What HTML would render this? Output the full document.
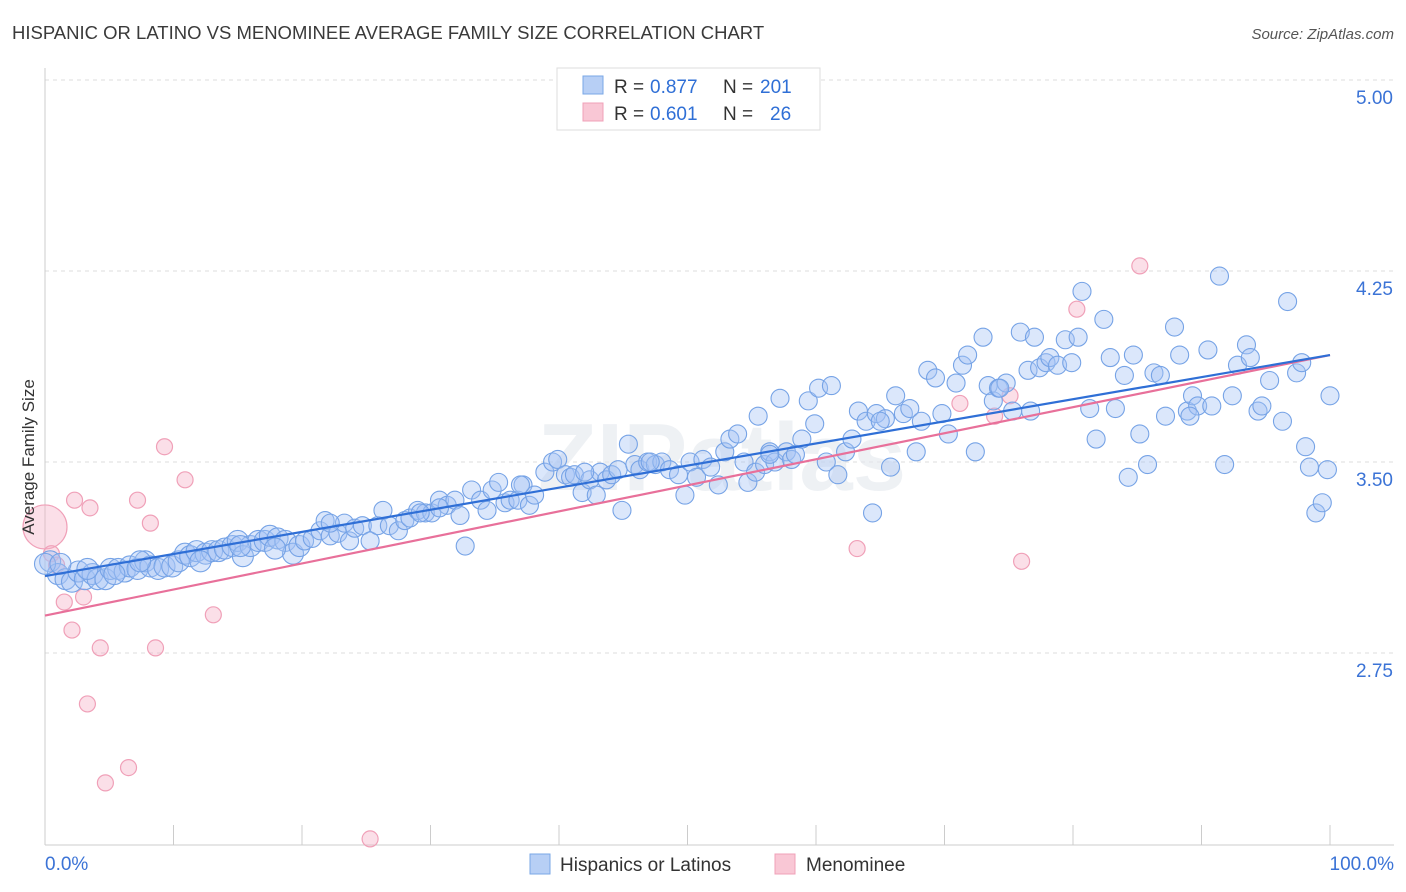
<!DOCTYPE html>
<html><head><meta charset="utf-8">
<style>
body{margin:0;background:#fff;font-family:"Liberation Sans",sans-serif;}
svg{display:block}
</style></head>
<body>
<svg id="chart" width="1406" height="892" xmlns="http://www.w3.org/2000/svg" font-family="Liberation Sans, sans-serif">
<text x="12" y="39" font-size="18.5" fill="#3a3a3a">HISPANIC OR LATINO VS MENOMINEE AVERAGE FAMILY SIZE CORRELATION CHART</text>
<text x="1394" y="39" font-size="15" fill="#555" font-style="italic" text-anchor="end">Source: ZipAtlas.com</text>
<g id="grid"></g>
<text x="722" y="490" font-size="96" fill="#e4e8ee" text-anchor="middle" font-weight="bold" opacity="0.6">ZIPatlas</text>
<g id="axes"></g>
<g id="pink"></g>
<g id="blue"></g>
<g id="lines"></g>
<text transform="translate(34,457) rotate(-90)" font-size="17" fill="#333" text-anchor="middle">Average Family Size</text>
<g>
<rect x="557" y="68" width="263" height="62" fill="#fff" stroke="#ddd"/>
<rect x="583" y="76" width="20" height="18" fill="#b7cff5" stroke="#7aa7e6"/>
<rect x="583" y="103" width="20" height="18" fill="#f9c7d5" stroke="#f0a0b8"/>
<text x="614" y="93" font-size="19" fill="#333">R =</text>
<text x="650" y="93" font-size="19" fill="#2f6fd6">0.877</text>
<text x="723" y="93" font-size="19" fill="#333">N =</text>
<text x="760" y="93" font-size="19" fill="#2f6fd6">201</text>
<text x="614" y="120" font-size="19" fill="#333">R =</text>
<text x="650" y="120" font-size="19" fill="#2f6fd6">0.601</text>
<text x="723" y="120" font-size="19" fill="#333">N =</text>
<text x="770" y="120" font-size="19" fill="#2f6fd6">26</text>
</g>
<g>
<rect x="530" y="854" width="20" height="20" fill="#b7cff5" stroke="#7aa7e6"/>
<text x="560" y="871" font-size="19" fill="#333">Hispanics or Latinos</text>
<rect x="775" y="854" width="20" height="20" fill="#f9c7d5" stroke="#f0a0b8"/>
<text x="806" y="871" font-size="19" fill="#333">Menominee</text>
</g>
</svg>
<script>
const yTicks=[2.75,3.50,4.25,5.00];
const yTickLabels=["2.75","3.50","4.25","5.00"];
const xTickLabels=["0.0%","100.0%"];
const blueX=[0.4,1.0,1.6,2.1,2.6,3.1,3.7,4.1,4.7,5.1,5.7,6.2,6.6,7.2,7.8,8.2,8.8,9.3,9.9,10.4,10.9,11.3,11.8,12.5,13.0,13.5,14.0,14.6,15.0,15.4,16.0,16.6,17.1,17.5,18.1,18.7,19.3,19.8,20.2,20.8,21.4,21.8,22.2,22.8,23.3,23.7,24.1,24.7,25.3,25.9,26.3,26.8,27.5,28.0,28.4,29.0,29.6,30.1,30.7,31.3,31.9,32.3,32.7,33.2,33.9,34.4,34.8,35.3,35.8,36.2,36.8,37.2,37.7,38.1,38.9,39.5,39.9,40.5,40.9,41.2,41.8,42.4,42.9,43.2,43.7,44.1,44.6,44.9,45.4,45.9,46.3,46.9,47.5,48.0,48.6,49.3,49.8,50.2,50.7,51.2,51.8,52.4,52.9,53.3,53.9,54.4,54.7,55.3,55.5,56.0,56.4,56.8,57.2,57.7,58.1,58.4,58.9,59.4,59.9,60.2,60.8,61.2,61.7,62.3,62.8,63.3,63.9,64.4,64.7,65.4,65.8,66.2,66.8,67.3,67.8,68.2,68.7,69.3,69.8,70.3,70.9,71.4,71.8,72.4,73.0,73.4,73.8,74.2,74.8,75.3,75.9,76.5,77.0,77.4,77.9,78.2,78.8,79.4,79.9,80.4,80.7,81.3,81.8,82.4,82.9,83.3,84.0,84.3,84.7,85.2,85.8,86.3,86.8,87.2,87.9,88.3,88.9,89.3,89.7,90.5,90.8,91.4,91.8,92.4,92.8,93.5,93.8,94.4,94.7,95.3,96.3,96.7,97.4,97.8,98.1,98.4,98.9,99.4,99.8,100,0,1.2,3.3,5.4,7.4,12.1,15.2,17.9,22.2,29.2,30.7,37.0,42.0,47.1,56.4,65.0,74.3,76.7,89.1];
const blueY=[3.11,3.06,3.04,3.03,3.07,3.04,3.06,3.04,3.04,3.08,3.08,3.07,3.09,3.08,3.11,3.09,3.08,3.09,3.09,3.11,3.14,3.13,3.15,3.14,3.15,3.15,3.16,3.17,3.19,3.13,3.17,3.19,3.19,3.21,3.20,3.19,3.14,3.17,3.19,3.20,3.23,3.27,3.21,3.22,3.26,3.19,3.24,3.25,3.19,3.25,3.31,3.25,3.23,3.27,3.28,3.31,3.30,3.30,3.35,3.33,3.35,3.29,3.17,3.39,3.35,3.31,3.39,3.42,3.34,3.35,3.35,3.41,3.33,3.37,3.46,3.50,3.51,3.45,3.44,3.45,3.38,3.43,3.37,3.46,3.43,3.45,3.47,3.31,3.57,3.49,3.47,3.50,3.49,3.50,3.47,3.45,3.37,3.50,3.44,3.51,3.48,3.41,3.54,3.59,3.61,3.50,3.42,3.46,3.68,3.49,3.54,3.50,3.75,3.54,3.51,3.53,3.59,3.74,3.65,3.79,3.50,3.80,3.45,3.54,3.59,3.70,3.66,3.30,3.69,3.67,3.48,3.76,3.69,3.71,3.54,3.66,3.86,3.83,3.69,3.61,3.81,3.88,3.92,3.54,3.99,3.80,3.74,3.79,3.81,3.70,4.01,3.86,3.99,3.87,3.89,3.91,3.88,3.98,3.89,3.99,4.17,3.71,3.59,4.06,3.91,3.71,3.84,3.44,3.92,3.61,3.49,3.85,3.84,3.68,4.03,3.92,3.70,3.76,3.72,3.94,3.72,4.23,3.49,3.76,3.88,3.96,3.91,3.70,3.72,3.82,3.66,4.13,3.85,3.89,3.56,3.48,3.30,3.34,3.47,3.76,3.10,3.10,3.08,3.06,3.11,3.11,3.17,3.16,3.26,3.30,3.32,3.41,3.46,3.50,3.53,3.66,3.79,3.70,3.68];
const pinkX=[0,0.5,0.9,1.5,2.3,3.5,2.1,3.0,4.3,3.3,4.7,6.5,7.2,8.2,9.3,8.6,10.9,13.1,25.3,63.2,71.2,73.9,75.1,76.0,80.3,85.2];
const pinkY=[3.245,3.14,3.095,2.95,3.35,3.32,2.84,2.97,2.77,2.55,2.24,2.30,3.35,3.26,3.56,2.77,3.43,2.90,2.02,3.16,3.73,3.68,3.76,3.11,4.10,4.27];
const blueTrend=[3.052,3.92];
const pinkTrend=[2.897,3.92];

const NS="http://www.w3.org/2000/svg";
const X0=45,X1=1330,YB=845;
const sx=v=>X0+(X1-X0)*v/100;
const sy=v=>653-(v-2.75)*254.67;
function mk(tag,attrs,parent){const e=document.createElementNS(NS,tag);for(const k in attrs)e.setAttribute(k,attrs[k]);parent.appendChild(e);return e;}
const grid=document.getElementById('grid'),axes=document.getElementById('axes');
yTicks.forEach((t,i)=>{
  const l=mk('line',{x1:X0,x2:1394,y1:sy(t),y2:sy(t),stroke:'#ddd','stroke-dasharray':'4,4'},grid);
  
  
  const tx=mk('text',{x:1393,y:sy(t)+24,'font-size':19,fill:'#3b73d6','text-anchor':'end'},axes);
  tx.textContent=yTickLabels[i];
  
  
});
const ya=mk('line',{x1:X0,x2:X0,y1:68,y2:YB,stroke:'#ccc'},axes);


const xa=mk('line',{x1:X0,x2:1394,y1:YB,y2:YB,stroke:'#ccc'},axes);


for(let i=0;i<=10;i++){
  const t=mk('line',{x1:sx(i*10),x2:sx(i*10),y1:825,y2:YB,stroke:'#ccc'},axes);
  
  
}
const xl0=mk('text',{x:45,y:870,'font-size':19,fill:'#3b73d6'},axes);xl0.textContent=xTickLabels[0];


const xl1=mk('text',{x:1394,y:870,'font-size':19,fill:'#3b73d6','text-anchor':'end'},axes);xl1.textContent=xTickLabels[1];



const pg=document.getElementById('pink');
pinkX.forEach((x,i)=>{
  const c=mk('circle',{cx:sx(x),cy:sy(pinkY[i]),r:i===0?22:8,fill:'rgba(246,175,198,0.4)',stroke:'#f0a0b8','stroke-width':1.2},pg);
  
  
});
const bg=document.getElementById('blue');
blueX.forEach((x,i)=>{
  const c=mk('circle',{cx:sx(x),cy:sy(blueY[i]),r:x<20?10.5:9,fill:'rgba(165,196,244,0.4)',stroke:'#76a3e6','stroke-width':1.1},bg);
  
  
});
const lg=document.getElementById('lines');
const pl=mk('line',{x1:sx(0),y1:sy(pinkTrend[0]),x2:sx(100),y2:sy(pinkTrend[1]),stroke:'#e8709a','stroke-width':2.2},lg);


const bl=mk('line',{x1:sx(0),y1:sy(blueTrend[0]),x2:sx(100),y2:sy(blueTrend[1]),stroke:'#2f6fd6','stroke-width':2.2},lg);


</script>
</body></html>
